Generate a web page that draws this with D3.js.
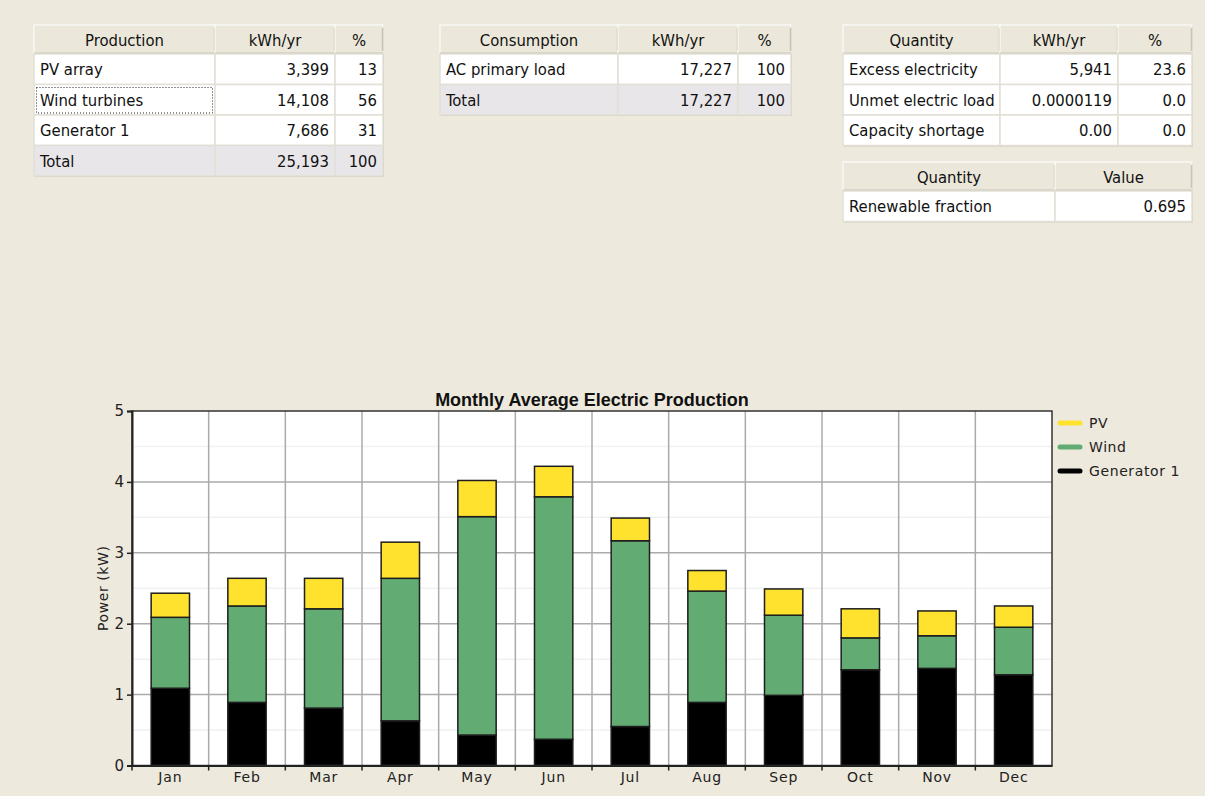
<!DOCTYPE html>
<html>
<head>
<meta charset="utf-8">
<script src="https://cdn.jsdelivr.net/npm/d3@7"></script>
<style>
  html, body { margin: 0; padding: 0; background: #ede9dc; }
  svg { display: block; }
</style>
</head>
<body>
<div id="chart"></div>
<script>
// months and stacked series (kW)
let months = ["Jan", "Feb", "Mar", "Apr", "May", "Jun", "Jul", "Aug", "Sep", "Oct", "Nov", "Dec"];
let generator = [1.09, 0.89, 0.81, 0.63, 0.43, 0.37, 0.55, 0.89, 0.99, 1.35, 1.37, 1.28];
let wind = [1.00, 1.36, 1.40, 2.01, 3.08, 3.42, 2.62, 1.57, 1.13, 0.45, 0.46, 0.67];
let pv = [0.34, 0.39, 0.43, 0.51, 0.51, 0.43, 0.32, 0.29, 0.37, 0.41, 0.35, 0.30];
let yTicks = [0, 1, 2, 3, 4, 5];

// summary tables
let productionRows = [
    ["PV array", "3,399", "13"],
    ["Wind turbines", "14,108", "56"],
    ["Generator 1", "7,686", "31"],
    ["Total", "25,193", "100"]
];
let consumptionRows = [
    ["AC primary load", "17,227", "100"],
    ["Total", "17,227", "100"]
];
let quantityRows = [
    ["Excess electricity", "5,941", "23.6"],
    ["Unmet electric load", "0.0000119", "0.0"],
    ["Capacity shortage", "0.00", "0.0"]
];
let renewableRows = [
    ["Renewable fraction", "0.695"]
];

let width = 1205,
    height = 796;

let cellFont = "'Liberation Sans Narrow', 'DejaVu Sans Condensed', 'Liberation Sans', sans-serif";
let axisFont = "'DejaVu Sans', Tahoma, sans-serif";

let svg = d3.select("#chart").append("svg")
    .attr("width", width)
    .attr("height", height);

svg.append("rect")
    .attr("width", width)
    .attr("height", height)
    .attr("fill", "#ede9dc");

// ---------- tables ----------
function drawTable(x, y, colEdges, headers, rows, opts) {
    let g = svg.append("g").attr("transform", "translate(" + x + "," + y + ")");
    let headH = 29, rowH = 30.5;
    let w = colEdges[colEdges.length - 1];
    let h = headH + rows.length * rowH;

    // outer shadow
    g.append("rect")
        .attr("x", 1).attr("y", 1)
        .attr("width", w).attr("height", h)
        .attr("fill", "#c9c5b8");

    // header
    headers.forEach(function (t, i) {
        let x0 = colEdges[i], x1 = colEdges[i + 1];
        g.append("rect")
            .attr("x", x0).attr("y", 0)
            .attr("width", x1 - x0).attr("height", headH)
            .attr("fill", "#ebe7da")
            .attr("stroke", "#ffffff").attr("stroke-width", 1);
        g.append("line")
            .attr("x1", x0).attr("x2", x1)
            .attr("y1", headH - 0.5).attr("y2", headH - 0.5)
            .attr("stroke", "#c8c4b4").attr("stroke-width", 2);
        g.append("line")
            .attr("x1", x1 - 0.5).attr("x2", x1 - 0.5)
            .attr("y1", 3).attr("y2", headH - 3)
            .attr("stroke", "#c8c4b4").attr("stroke-width", 1.5);
        g.append("text")
            .style("font-family", cellFont)
            .style("font-size", "16.5px")
            .attr("fill", "#111")
            .attr("x", (x0 + x1) / 2)
            .attr("y", headH / 2 + 6)
            .attr("text-anchor", "middle")
            .text(t);
    });

    // body
    rows.forEach(function (r, ri) {
        let y0 = headH + ri * rowH;
        let isTotal = opts.total && ri === rows.length - 1;
        r.forEach(function (t, ci) {
            let x0 = colEdges[ci], x1 = colEdges[ci + 1];
            g.append("rect")
                .attr("x", x0).attr("y", y0)
                .attr("width", x1 - x0).attr("height", rowH)
                .attr("fill", isTotal ? "#e9e6ea" : "#ffffff")
                .attr("stroke", "#e2dfd6").attr("stroke-width", 1.5);
            g.append("text")
                .style("font-family", cellFont)
                .style("font-size", "16.5px")
                .attr("fill", "#111")
                .attr("x", ci === 0 ? x0 + 6 : x1 - 6)
                .attr("y", y0 + rowH / 2 + 6)
                .attr("text-anchor", ci === 0 ? "start" : "end")
                .text(t);
        });
        if (opts.focus === ri) {
            g.append("rect")
                .attr("x", colEdges[0] + 2.5).attr("y", Math.round(y0) + 2.5)
                .attr("width", colEdges[1] - colEdges[0] - 5).attr("height", rowH - 5)
                .attr("fill", "none")
                .attr("stroke", "#222")
                .attr("stroke-width", 1)
                .attr("stroke-dasharray", "1,2");
        }
    });
}

drawTable(34, 25, [0, 181, 301, 349], ["Production", "kWh/yr", "%"], productionRows, {total: true, focus: 1});
drawTable(440, 25, [0, 178, 298, 351], ["Consumption", "kWh/yr", "%"], consumptionRows, {total: true});
drawTable(843, 25, [0, 157, 275, 349], ["Quantity", "kWh/yr", "%"], quantityRows, {});
drawTable(843, 162, [0, 212, 349], ["Quantity", "Value"], renewableRows, {});

// ---------- chart ----------
let margin = {left: 132, right: 1052, top: 411, bottom: 765.5};

let x = d3.scaleBand()
    .domain(months)
    .range([margin.left, margin.right])
    .paddingInner(0)
    .paddingOuter(0);

let y = d3.scaleLinear()
    .domain([0, 5])
    .range([margin.bottom, margin.top]);

let chart = svg.append("g");

chart.append("rect")
    .attr("x", margin.left).attr("y", margin.top)
    .attr("width", margin.right - margin.left)
    .attr("height", margin.bottom - margin.top)
    .attr("fill", "#ffffff");

// minor horizontal grid (half units)
chart.append("g").selectAll("line")
    .data(d3.range(0.5, 5, 1))
    .join("line")
    .attr("x1", margin.left).attr("x2", margin.right)
    .attr("y1", d => y(d)).attr("y2", d => y(d))
    .attr("stroke", "#f1f1f1").attr("stroke-width", 1.5);

// major horizontal grid
chart.append("g").selectAll("line")
    .data(yTicks.slice(1, -1))
    .join("line")
    .attr("x1", margin.left).attr("x2", margin.right)
    .attr("y1", d => y(d)).attr("y2", d => y(d))
    .attr("stroke", "#ababab").attr("stroke-width", 1.5);

// vertical grid at month boundaries
chart.append("g").selectAll("line")
    .data(months.slice(1))
    .join("line")
    .attr("x1", d => x(d)).attr("x2", d => x(d))
    .attr("y1", margin.top).attr("y2", margin.bottom)
    .attr("stroke", "#ababab").attr("stroke-width", 1.5);

// stacked bars
let stackData = months.map(function (m, i) {
    return {month: m, gen: generator[i], wind: wind[i], pv: pv[i]};
});
let keys = ["gen", "wind", "pv"];
let colors = {gen: "#000000", wind: "#62ab72", pv: "#ffe22e"};
let series = d3.stack().keys(keys)(stackData);

let bw = x.bandwidth() / 2;

chart.append("g").selectAll("g")
    .data(series)
    .join("g")
    .attr("fill", d => colors[d.key])
    .selectAll("rect")
    .data(d => d)
    .join("rect")
    .attr("x", d => x(d.data.month) + (x.bandwidth() - bw) / 2)
    .attr("width", bw)
    .attr("y", d => y(d[1]))
    .attr("height", d => y(d[0]) - y(d[1]))
    .attr("stroke", "#1e1e1e")
    .attr("stroke-width", 1.5);

// plot frame
chart.append("rect")
    .attr("x", margin.left).attr("y", margin.top)
    .attr("width", margin.right - margin.left)
    .attr("height", margin.bottom - margin.top)
    .attr("fill", "none")
    .attr("stroke", "#333")
    .attr("stroke-width", 1.5);

// y axis
let yAxis = chart.append("g")
    .attr("transform", "translate(" + margin.left + ",0)")
    .call(d3.axisLeft(y).tickValues(yTicks).tickSize(5).tickFormat(d3.format("d")));
yAxis.select(".domain").attr("stroke", "#222").attr("stroke-width", 2);
yAxis.selectAll(".tick line").attr("stroke", "#222").attr("stroke-width", 1.5);
yAxis.selectAll(".tick text")
    .style("font-family", axisFont)
    .style("font-size", "15px")
    .attr("fill", "#222")
    .attr("x", -8);

// x axis
let xAxis = chart.append("g")
    .attr("transform", "translate(0," + margin.bottom + ")")
    .call(d3.axisBottom(x).tickSize(0).tickPadding(7));
xAxis.select(".domain").attr("stroke", "#222").attr("stroke-width", 2);
xAxis.selectAll(".tick text")
    .style("font-family", axisFont)
    .style("font-size", "14px")
    .attr("fill", "#222")
    .attr("letter-spacing", 0.8);

// ticks at month boundaries
chart.append("g").selectAll("line")
    .data(months)
    .join("line")
    .attr("x1", d => x(d)).attr("x2", d => x(d))
    .attr("y1", margin.bottom).attr("y2", margin.bottom + 5)
    .attr("stroke", "#222").attr("stroke-width", 1.5);

// title
chart.append("text")
    .attr("x", (margin.left + margin.right) / 2)
    .attr("y", 406)
    .attr("text-anchor", "middle")
    .style("font-family", "'Liberation Sans', Arial, sans-serif")
    .style("font-weight", "bold")
    .style("font-size", "18px")
    .attr("fill", "#111")
    .text("Monthly Average Electric Production");

// y label
chart.append("text")
    .attr("transform", "translate(108," + ((margin.top + margin.bottom) / 2) + ") rotate(-90)")
    .attr("text-anchor", "middle")
    .style("font-family", axisFont)
    .style("font-size", "14px")
    .attr("fill", "#222")
    .attr("letter-spacing", 0.6)
    .text("Power (kW)");

// legend
let legendItems = [
    {label: "PV", color: colors.pv},
    {label: "Wind", color: colors.wind},
    {label: "Generator 1", color: colors.gen}
];
let legend = chart.append("g").selectAll("g")
    .data(legendItems)
    .join("g")
    .attr("transform", (d, i) => "translate(1060," + (423 + i * 24) + ")");
legend.append("line")
    .attr("x1", 0).attr("x2", 20)
    .attr("stroke", d => d.color)
    .attr("stroke-width", 5)
    .attr("stroke-linecap", "round");
legend.append("text")
    .attr("x", 29)
    .attr("y", 5)
    .style("font-family", axisFont)
    .style("font-size", "14px")
    .attr("fill", "#222")
    .attr("letter-spacing", 0.6)
    .text(d => d.label);
</script>
</body>
</html>
